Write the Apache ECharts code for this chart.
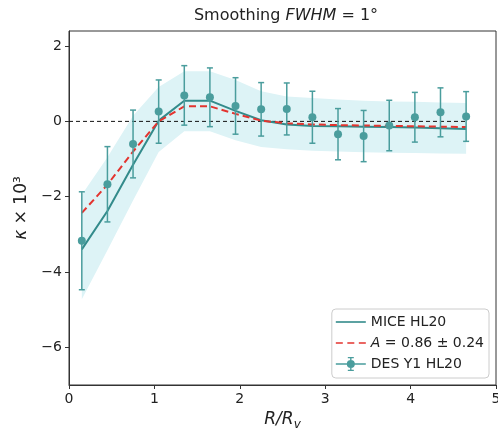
<!DOCTYPE html>
<html>
<head>
<meta charset="utf-8">
<script src="https://cdn.jsdelivr.net/npm/echarts@6/dist/echarts.min.js"></script>
<style>
  html, body { margin: 0; padding: 0; background: #fff; }
  #chart { width: 498px; height: 433px; }
</style>
</head>
<body>
<div id="chart"></div>
<script>
// radial bins R/Rv
var rBins = [0.15, 0.45, 0.75, 1.05, 1.35, 1.65, 1.95, 2.25, 2.55, 2.85, 3.15, 3.45, 3.75, 4.05, 4.35, 4.65];
// DES Y1 HL20 measurement and its error
var desValues = [-3.17, -1.67, -0.6, 0.26, 0.69, 0.64, 0.41, 0.32, 0.33, 0.11, -0.34, -0.39, -0.11, 0.11, 0.24, 0.13];
var desErrors = [1.3, 1.0, 0.9, 0.84, 0.79, 0.78, 0.75, 0.71, 0.69, 0.69, 0.68, 0.68, 0.67, 0.66, 0.65, 0.66];
// MICE HL20 prediction and its band
var miceValues = [-3.4, -2.38, -1.15, 0.02, 0.55, 0.55, 0.28, 0.03, -0.08, -0.12, -0.13, -0.14, -0.15, -0.16, -0.18, -0.2];
var bandUpper = [-1.95, -0.95, 0.15, 0.91, 1.33, 1.33, 1.1, 0.8, 0.66, 0.62, 0.58, 0.55, 0.53, 0.52, 0.5, 0.49];
var bandLower = [-4.72, -3.42, -2.1, -0.81, -0.26, -0.26, -0.5, -0.68, -0.74, -0.78, -0.8, -0.82, -0.83, -0.84, -0.85, -0.86];
// amplitude fit A = 0.86 +- 0.24
var fitValues = [-2.43, -1.68, -0.8, 0.0, 0.4, 0.4, 0.2, 0.02, -0.05, -0.08, -0.1, -0.11, -0.12, -0.13, -0.14, -0.15];
var yTicks = [-6, -4, -2, 0, 2];

var teal = '#4a9d9d';
var tealLine = '#338b8b';
var red = '#e3342f';
var font = 'DejaVu Sans';

var myChart = echarts.init(document.getElementById('chart'));

var bandPts = [], micePts = [], fitPts = [], desPts = [], errPts = [];
for (var i = 0; i < rBins.length; ++i) {
  bandPts.push([rBins[i], bandLower[i], bandUpper[i]]);
  micePts.push([rBins[i], miceValues[i]]);
  fitPts.push([rBins[i], fitValues[i]]);
  desPts.push([rBins[i], desValues[i]]);
  errPts.push([rBins[i], desValues[i], desErrors[i]]);
}

// legend icons
var solidIcon = 'path://M0,0h30v1.6h-30z';
var dashIcon = 'path://M0,0h7v1.6h-7z M11.5,0h7v1.6h-7z M23,0h7v1.6h-7z';
var errIcon = 'path://M0,6.3h30v1.4h-30z M14.3,0h1.4v14h-1.4z M12,0h6v1.3h-6z M12,12.7h6v1.3h-6z ' +
  'M19,7a4,4 0 1,1 -8,0a4,4 0 1,1 8,0z';

var option = {
  animation: false,
  title: {
    text: 'Smoothing {i|FWHM} = 1°',
    left: 281,
    top: 3,
    textAlign: 'center',
    textStyle: {
      fontFamily: font, fontSize: 16, fontWeight: 'normal', color: '#222',
      rich: { i: { fontFamily: font, fontSize: 16, fontStyle: 'italic', color: '#222' } }
    }
  },
  grid: {
    left: 69, right: 2, top: 31, bottom: 48,
    outerBoundsMode: 'none',
    show: true, borderColor: '#333', borderWidth: 1
  },
  legend: {
    orient: 'vertical',
    right: 9,
    bottom: 55,
    data: [
      { name: 'MICE HL20', icon: solidIcon },
      { name: 'A = 0.86 ± 0.24', icon: dashIcon },
      { name: 'DES Y1 HL20', icon: errIcon }
    ],
    itemWidth: 30,
    itemHeight: 14,
    itemGap: 7,
    padding: [6, 5, 7, 4],
    backgroundColor: '#fff',
    borderColor: '#ccc',
    borderWidth: 1,
    borderRadius: 4,
    textStyle: {
      fontFamily: font, fontSize: 14, color: '#222',
      rich: { i: { fontFamily: font, fontSize: 14, fontStyle: 'italic', color: '#222' } }
    },
    formatter: function(name) {
      return name.replace(/^A /, '{i|A} ');
    }
  },
  xAxis: {
    type: 'value',
    min: 0, max: 5, interval: 1,
    name: '{i|R/R}{s|v}',
    nameLocation: 'middle',
    nameGap: 18,
    nameTextStyle: {
      fontFamily: font, fontSize: 17, color: '#222',
      rich: {
        i: { fontFamily: font, fontSize: 17, fontStyle: 'italic', color: '#222' },
        s: { fontFamily: font, fontSize: 12, fontStyle: 'italic', color: '#222', padding: [10, 0, 0, 0] }
      }
    },
    splitLine: { show: false },
    axisLine: { onZero: false, lineStyle: { color: '#333' } },
    axisTick: { length: 4, lineStyle: { color: '#333' } },
    axisLabel: { fontFamily: font, fontSize: 14, color: '#222', margin: 7 }
  },
  yAxis: {
    type: 'value',
    min: -7, max: 2.4,
    name: '{i|κ} × 10³',
    nameLocation: 'middle',
    nameGap: 26,
    nameTextStyle: {
      fontFamily: font, fontSize: 17, color: '#222',
      rich: { i: { fontFamily: font, fontSize: 17, fontStyle: 'italic', color: '#222' } }
    },
    splitLine: { show: false },
    axisLine: { show: true, onZero: false, lineStyle: { color: '#333' } },
    axisTick: { show: true, length: 4, customValues: yTicks, lineStyle: { color: '#333' } },
    axisLabel: {
      fontFamily: font, fontSize: 14, color: '#222', margin: 7,
      customValues: yTicks,
      formatter: function(v) { return String(v).replace('-', '\u2212'); }
    }
  },
  series: [
    {
      type: 'custom', name: 'band', data: bandPts, silent: true, z: 1,
      renderItem: function(params, api) {
        if (params.dataIndex !== 0) return;
        var top = [], bot = [];
        for (var k = 0; k < bandPts.length; ++k) {
          top.push(api.coord([bandPts[k][0], bandPts[k][2]]));
          bot.unshift(api.coord([bandPts[k][0], bandPts[k][1]]));
        }
        return {
          type: 'polygon',
          shape: { points: top.concat(bot) },
          style: { fill: '#ddf3f6', stroke: null }
        };
      }
    },
    {
      type: 'line', name: 'zero', data: [[0, 0], [4.65, 0]],
      symbol: 'none', lineStyle: { color: '#111', width: 1, type: [4, 3] }, z: 2
    },
    {
      type: 'line', name: 'MICE HL20', data: micePts,
      symbol: 'none', lineStyle: { color: tealLine, width: 2 }, itemStyle: { color: tealLine }, z: 3
    },
    {
      type: 'line', name: 'A = 0.86 ± 0.24', data: fitPts,
      symbol: 'none', lineStyle: { color: red, width: 2, type: [7, 4] }, itemStyle: { color: red }, z: 4
    },
    {
      type: 'custom', name: 'DES Y1 HL20', data: errPts, z: 5,
      itemStyle: { color: teal },
      renderItem: function(params, api) {
        var x = api.value(0), y = api.value(1), e = api.value(2);
        var top = api.coord([x, y + e]);
        var bot = api.coord([x, y - e]);
        var style = { stroke: teal, lineWidth: 1.5, fill: null };
        return {
          type: 'group',
          children: [
            { type: 'line', shape: { x1: top[0], y1: top[1], x2: bot[0], y2: bot[1] }, style: style },
            { type: 'line', shape: { x1: top[0] - 3, y1: top[1], x2: top[0] + 3, y2: top[1] }, style: style },
            { type: 'line', shape: { x1: bot[0] - 3, y1: bot[1], x2: bot[0] + 3, y2: bot[1] }, style: style }
          ]
        };
      }
    },
    {
      type: 'scatter', name: 'DES Y1 HL20', data: desPts,
      symbol: 'circle', symbolSize: 8, itemStyle: { color: teal, opacity: 1 }, z: 6
    }
  ]
};
myChart.setOption(option);
</script>
</body>
</html>
